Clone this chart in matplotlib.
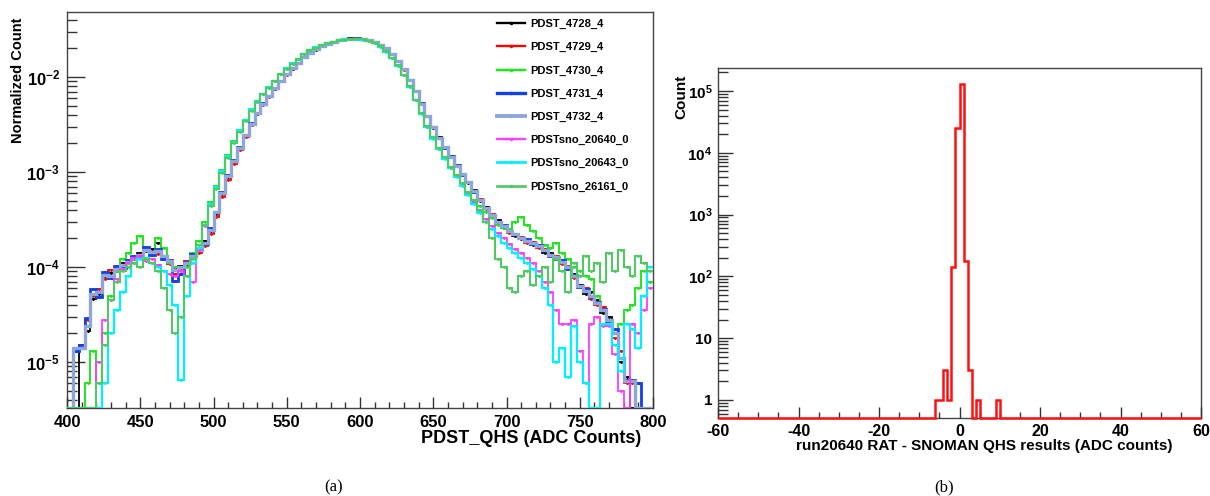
import numpy as np
import matplotlib
matplotlib.use("Agg")
import matplotlib.pyplot as plt
from matplotlib.lines import Line2D
from matplotlib.ticker import LogLocator, FuncFormatter, MultipleLocator, NullFormatter


plt.rcParams['font.family'] = ['Liberation Sans', 'DejaVu Sans']
plt.rcParams['font.weight'] = 'bold'
plt.rcParams['axes.unicode_minus'] = False
plt.rcParams['mathtext.fontset'] = 'custom'
plt.rcParams['mathtext.rm'] = 'Liberation Sans:bold'
plt.rcParams['mathtext.it'] = 'Liberation Sans:bold'
plt.rcParams['mathtext.bf'] = 'Liberation Sans:bold'


# ************ #
# *** DATA *** #
# ************ #

# (a) normalized PDST_QHS spectra, 4 ADC bins from 400 to 800, values in units of 1e-5
QHS_EDGES = np.arange(400, 804, 4)
UNIT = 1e-5

run_labels = ["PDST_4728_4", "PDST_4729_4", "PDST_4730_4", "PDST_4731_4",
              "PDST_4732_4", "PDSTsno_20640_0", "PDSTsno_20643_0", "PDSTsno_26161_0"]

pdst_4728 = [
    0, 0, 1.4, 2.1, 4.6, 5.2, 8.1, 8.6, 9.8, 10.9,
    11.5, 12.6, 14.1, 14.8, 15.6, 17.9, 12.4, 11.3, 9.6, 10.2,
    10.8, 12.7, 14.9, 18.6, 24.1, 36.5, 58, 88, 129, 178,
    241, 320, 411, 519, 628, 752, 905, 1068, 1226, 1405,
    1615, 1771, 1946, 2131, 2244, 2349, 2461, 2507, 2550, 2538,
    2519, 2449, 2352, 2180, 1990, 1745, 1472, 1210, 928, 712,
    520, 392, 291, 232, 180, 147, 115, 96, 77, 64,
    50, 43, 34, 31, 26, 25, 21, 19.5, 19, 17,
    17, 14, 14, 12, 11.5, 9.8, 8.4, 6.5, 5.2, 5.5,
    4.5, 3.3, 3.0, 2.2, 1.0, 0.7, 0, 0, 0, 0]

pdst_4729 = [
    0, 1.3, 1.5, 2.8, 4.9, 5.8, 7.4, 9.2, 9.0, 10.4,
    11.1, 12.2, 13.5, 15.4, 14.2, 13.6, 12.9, 10.8, 8.5, 9.7,
    11.6, 12.4, 14.2, 16.8, 22, 34, 54, 83, 122, 170,
    232, 311, 405, 512, 620, 748, 898, 1060, 1220, 1401,
    1610, 1781, 1955, 2140, 2236, 2352, 2450, 2520, 2535, 2546,
    2507, 2460, 2340, 2193, 2002, 1733, 1485, 1196, 940, 705,
    530, 386, 298, 226, 184, 143, 119, 94, 79, 62,
    52, 41, 36, 29, 28, 23, 22.5, 20.5, 18, 18.5,
    16, 15.5, 13, 13, 10.8, 10.3, 7.6, 6.1, 6, 4.6,
    4, 3.8, 2.5, 1.8, 1.3, 0.6, 0.6, 0, 0, 0]

pdst_4730 = [
    0, 0, 0, 0.6, 1.3, 0.6, 2.0, 5.0, 9.0, 12,
    14, 18, 21, 15, 14, 20, 16, 11, 10, 9,
    10, 14, 19, 30, 48, 72, 104, 150, 210, 275,
    352, 452, 545, 668, 770, 905, 1080, 1222, 1390, 1541,
    1745, 1898, 2050, 2180, 2270, 2338, 2435, 2476, 2520, 2505,
    2490, 2390, 2272, 2080, 1870, 1577, 1325, 1040, 800, 570,
    420, 300, 232, 176, 143, 110, 93, 72, 62, 48,
    44, 38, 33, 28, 26, 25, 30, 34, 28, 24,
    20, 17, 16, 18, 14, 12, 10, 9, 8, 7.5,
    5, 3.5, 2.5, 2.2, 2.5, 3.5, 4, 6, 9, 7]

pdst_4731 = [
    0, 1.3, 1.5, 2.9, 5.8, 4.8, 8.8, 7.6, 10.2, 9.8,
    11.8, 13.1, 12.4, 16.2, 13.5, 15.4, 12.1, 11.8, 7.1, 8.4,
    11.2, 13.8, 15.6, 17.5, 25.5, 38, 61, 92, 134, 185,
    248, 328, 421, 530, 634, 762, 916, 1075, 1235, 1418,
    1628, 1785, 1955, 2135, 2242, 2340, 2458, 2515, 2538, 2545,
    2515, 2452, 2340, 2192, 1998, 1742, 1481, 1205, 935, 706,
    528, 390, 297, 230, 181, 146, 118, 94, 79, 62,
    51, 42, 35, 30, 27.5, 24, 22, 20, 19.5, 17.5,
    17, 15, 13, 12, 11.8, 9.6, 8.2, 6.2, 5.8, 4.8,
    4.3, 3.6, 2.6, 2.2, 1.1, 0.65, 0.65, 0.6, 0, 0]

pdst_4732 = [
    0, 1.4, 1.4, 2.4, 5.2, 5.5, 8.2, 8.0, 9.6, 10.6,
    11.2, 12.4, 13.4, 15.0, 14.5, 14.6, 13.0, 11.6, 9.2, 10.0,
    11.0, 13.2, 15.2, 18.0, 24.8, 37.5, 59.5, 90.5, 131, 181,
    244, 323, 416, 524, 630, 757, 910, 1070, 1229, 1411,
    1620, 1776, 1949, 2136, 2240, 2346, 2455, 2512, 2541, 2540,
    2512, 2454, 2346, 2187, 1996, 1739, 1478, 1203, 933, 709,
    524, 389, 295, 229, 182, 145, 117, 95, 78, 63,
    51, 42, 35, 30, 27, 24, 22, 20, 19, 18,
    16.6, 15, 13.5, 12.6, 11.2, 10, 8, 6.3, 5.6, 5,
    4.2, 3.5, 2.8, 2, 1.1, 0.63, 0.63, 0, 0, 0]

pdstsno_20640 = [
    0, 0, 0, 0, 0, 1.0, 2.8, 4.5, 7.5, 9.5,
    11.0, 12.5, 13.0, 11.5, 12.0, 10.5, 9.0, 8.5, 8.0, 9.0,
    8, 7, 15, 27, 46, 70, 102, 147, 206, 271,
    350, 450, 553, 665, 779, 915, 1076, 1233, 1384, 1553,
    1742, 1910, 2046, 2192, 2268, 2350, 2430, 2487, 2515, 2508,
    2480, 2396, 2260, 2085, 1858, 1580, 1315, 1043, 790, 572,
    414, 300, 227, 176, 140, 111, 90, 73, 59, 48,
    39, 32, 27, 23, 20, 17.5, 15.5, 14, 12.5, 11,
    9, 7, 5.5, 3.5, 2.5, 2.5, 2.8, 1.3, 0.6, 2.5,
    3.0, 2.4, 2.4, 1.2, 0.5, 0, 2.5, 2.0, 3.5, 6]

pdstsno_20643 = [
    0, 0, 0, 0, 0, 0, 0.6, 2.0, 3.5, 5.5,
    8, 11, 12, 12.5, 11, 10, 9, 6.5, 4.0, 0.65,
    5, 11, 16, 28, 46, 70, 103, 148, 208, 274,
    352, 455, 556, 668, 782, 918, 1080, 1238, 1388, 1556,
    1746, 1913, 2050, 2196, 2272, 2352, 2434, 2490, 2517, 2510,
    2478, 2392, 2256, 2080, 1852, 1575, 1310, 1040, 786, 568,
    410, 296, 224, 174, 138, 109, 88, 71, 57, 46,
    37, 30, 25, 21, 18, 16, 14, 12.5, 11, 9.5,
    8, 6, 4, 1.0, 1.4, 0.7, 2.4, 1.0, 0.6, 0,
    0, 2.5, 2.5, 1.5, 0.8, 2.5, 2.2, 1.4, 5, 10]

pdstsno_26161 = [
    0, 0, 0, 0, 0, 0.6, 1.5, 4.5, 7, 9,
    10, 11, 10, 12, 11, 9, 6, 3.5, 2.0, 3.0,
    8, 12, 17, 28, 44, 66, 98, 142, 200, 265,
    342, 443, 546, 656, 772, 908, 1068, 1226, 1376, 1545,
    1734, 1900, 2038, 2184, 2262, 2340, 2424, 2480, 2508, 2514,
    2486, 2402, 2270, 2094, 1866, 1590, 1322, 1050, 798, 578,
    420, 305, 232, 180, 143, 114, 93, 76, 62, 51,
    40, 30, 20, 12, 10, 6, 5.5, 8, 9, 6.5,
    8, 10, 7, 12, 9, 5.5, 11, 8, 13, 9,
    11, 7, 14, 9, 15, 10, 8, 13, 11, 9]

run_counts = [pdst_4728, pdst_4729, pdst_4730, pdst_4731,
              pdst_4732, pdstsno_20640, pdstsno_20643, pdstsno_26161]
run_colours = ['#000000', '#ff0000', '#1ee61e', '#1040e6',
               '#8ea6d8', '#ff3cff', '#00f0ff', '#50c864']
run_widths = [1.3, 1.3, 1.4, 2.0, 2.4, 1.3, 1.6, 1.5]

# (b) RAT - SNOMAN QHS differences, 1 ADC bins
diff_low_edges = [-6, -5, -4, -3, -2, -1, 0, 1, 2, 4, 9]
diff_counts = [1, 1, 3, 1, 140, 25000, 130000, 180, 3, 1, 1]


# *************** #
# *** FIGURE  *** #
# *************** #

W, H = 1210, 496
fig = plt.figure(figsize=(W / 100, H / 100), dpi=100)
axA = fig.add_axes([67 / W, 1 - 408 / H, 586 / W, 396 / H])
axB = fig.add_axes([718 / W, 1 - 418 / H, 483 / W, 350 / H])

SPINE = '#444444'
YMIN_A, YMAX_A = 3.28e-6, 4.83e-2
YMIN_B, YMAX_B = 0.51, 2.35e5


def styleFrame(ax):
    for side in ax.spines.values():
        side.set_color(SPINE)
        side.set_linewidth(1.0)
        side.set_zorder(1)
    ax.tick_params(which='both', direction='in', top=False, right=False, colors='#333333',
                   labelcolor='black')


def powerLabel(v, pos):
    n = int(round(np.log10(v)))
    return f'$10^{{{n}}}$'


def rootLabel(v, pos):
    n = int(round(np.log10(v)))
    if n == 0:
        return '1'
    if n == 1:
        return '10'
    return f'$10^{{{n}}}$'


# ---- (a) ----
centers = 0.5 * (QHS_EDGES[:-1] + QHS_EDGES[1:])
handles = []
for vals, col, lw, lab in zip(run_counts, run_colours, run_widths, run_labels):
    v = np.array(vals, dtype=float) * UNIT
    drawn = np.where(v > 0, v, YMIN_A)
    axA.stairs(drawn, QHS_EDGES, color=col, linewidth=lw, baseline=None, zorder=3)
    mask = v > 0
    axA.plot(centers[mask], v[mask], linestyle='none', marker='.', markersize=2.2,
             color=col, zorder=3)
    handles.append(Line2D([], [], color=col, linewidth=lw + 0.4, marker='.', markersize=3))

axA.set_yscale('log')
axA.set_xlim(400, 800)
axA.set_ylim(YMIN_A, YMAX_A)
styleFrame(axA)
axA.xaxis.set_major_locator(MultipleLocator(50))
axA.xaxis.set_minor_locator(MultipleLocator(10))
axA.yaxis.set_major_locator(LogLocator(base=10, numticks=12))
axA.yaxis.set_minor_locator(LogLocator(base=10, subs=np.arange(2, 10), numticks=24))
axA.yaxis.set_major_formatter(FuncFormatter(powerLabel))
axA.yaxis.set_minor_formatter(NullFormatter())
axA.tick_params(axis='x', which='major', length=8, width=1, labelsize=12, pad=5)
axA.tick_params(axis='x', which='minor', length=4, width=1)
axA.tick_params(axis='y', which='major', length=13, width=1, labelsize=12, pad=5)
axA.tick_params(axis='y', which='minor', length=7, width=1)

axA.set_xlabel('PDST_QHS (ADC Counts)', fontsize=13, fontweight='bold', loc='right')
axA.xaxis.set_label_coords((641 - 67) / 586, -0.055)
axA.set_ylabel('Normalized Count', fontsize=10.5, fontweight='bold', loc='top')
axA.yaxis.set_label_coords(-0.072, 0.985)

axA.legend(handles, run_labels, loc='upper left', bbox_to_anchor=(497 / W, 1 - 19 / H),
           bbox_transform=fig.transFigure, frameon=False,
           labelspacing=1.18, handlelength=2.5, handletextpad=0.45,
           borderpad=0, borderaxespad=0, prop={'weight': 'bold', 'size': 8})

# ---- (b) ----
diff_edges = np.arange(-60, 61)
diff_full = np.zeros(len(diff_edges) - 1)
for lo, c in zip(diff_low_edges, diff_counts):
    diff_full[lo + 60] = c
diff_drawn = np.where(diff_full > 0, diff_full, YMIN_B)
axB.stairs(diff_drawn, diff_edges, color='#ff1010', linewidth=1.8, baseline=None,
           zorder=3, clip_on=False)

axB.set_yscale('log')
axB.set_xlim(-60, 60)
axB.set_ylim(YMIN_B, YMAX_B)
styleFrame(axB)
axB.xaxis.set_major_locator(MultipleLocator(20))
axB.xaxis.set_minor_locator(MultipleLocator(5))
axB.yaxis.set_major_locator(LogLocator(base=10, numticks=12))
axB.yaxis.set_minor_locator(LogLocator(base=10, subs=np.arange(2, 10), numticks=24))
axB.yaxis.set_major_formatter(FuncFormatter(rootLabel))
axB.yaxis.set_minor_formatter(NullFormatter())
axB.tick_params(axis='x', which='major', length=8, width=1, labelsize=11.5, pad=4)
axB.tick_params(axis='x', which='minor', length=4, width=1)
axB.tick_params(axis='y', which='major', length=11, width=1, labelsize=11, pad=4)
axB.tick_params(axis='y', which='minor', length=7, width=1)

axB.set_xlabel('run20640 RAT - SNOMAN QHS results (ADC counts)', fontsize=11,
               fontweight='bold', loc='right')
axB.xaxis.set_label_coords((1172 - 718) / 483, -0.06)
axB.set_ylabel('Count', fontsize=11, fontweight='bold', loc='top')
axB.yaxis.set_label_coords(-0.062, 0.98)

# captions
fig.text(334 / W, 1 - 487 / H, '(a)', family='Liberation Serif', fontweight='normal',
         fontsize=12, ha='center', va='center')
fig.text(944 / W, 1 - 487 / H, '(b)', family='Liberation Serif', fontweight='normal',
         fontsize=12, ha='center', va='center')

fig.savefig('out.png', dpi=100)
